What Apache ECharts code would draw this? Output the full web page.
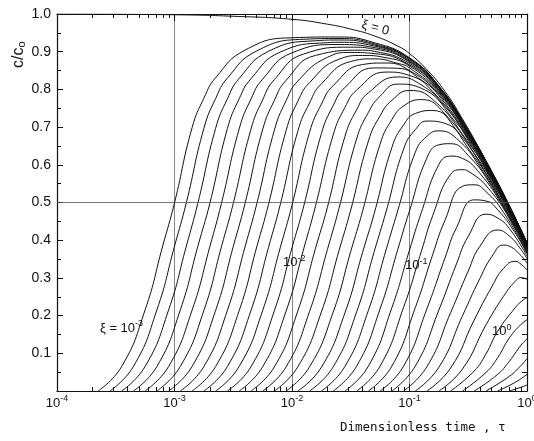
<!DOCTYPE html>
<html>
<head>
<meta charset="utf-8">
<script src="https://cdn.jsdelivr.net/npm/echarts@6/dist/echarts.min.js"></script>
<style>
  html, body { margin: 0; padding: 0; background: #fff; }
  #chart { width: 534px; height: 441px; }
</style>
</head>
<body>
<div id="chart"></div>
<script>
// decade exponents of the x axis (10^-4 .. 10^0)
const xTickExps = ['-4', '-3', '-2', '-1', '0'];
// minor log ticks 2..9 of each decade
const xMinorTicks = [
  2e-4, 3e-4, 4e-4, 5e-4, 6e-4, 7e-4, 8e-4, 9e-4,
  2e-3, 3e-3, 4e-3, 5e-3, 6e-3, 7e-3, 8e-3, 9e-3,
  0.02, 0.03, 0.04, 0.05, 0.06, 0.07, 0.08, 0.09,
  0.2, 0.3, 0.4, 0.5, 0.6, 0.7, 0.8, 0.9
];
const yTickLabels = ['', '0.1', '0.2', '0.3', '0.4', '0.5', '0.6', '0.7', '0.8', '0.9', '1.0'];

// xi = 0 curve, [tau, c/c0]
const xiZero = [
  [1e-4, 1.0], [1e-3, 0.998], [3.16e-3, 0.994], [0.01, 0.986], [0.02, 0.973],
  [0.0316, 0.96], [0.0501, 0.942], [0.0794, 0.915], [0.1, 0.895], [0.141, 0.852],
  [0.2, 0.795], [0.282, 0.722], [0.398, 0.64], [0.501, 0.583], [0.631, 0.523],
  [0.794, 0.46], [1, 0.393]
];

// family of curves, xi = 10^-3 ... 10^0.5 in steps of 10^0.1, [tau, c/c0]
const familyCurves = [
  [[2.24e-4,0],[3.55e-4,0.065],[5.62e-4,0.215],[7.94e-4,0.385],[1e-3,0.499],[1.41e-3,0.698],[1.78e-3,0.777],[2.24e-3,0.831],[3.98e-3,0.904],[0.01,0.937],[0.0251,0.939],[0.0501,0.924],[0.1,0.884],[0.178,0.809],[0.316,0.692],[0.501,0.581],[0.708,0.491],[1,0.393]],
  [[2.82e-4,0],[4.47e-4,0.065],[7.08e-4,0.215],[1e-3,0.384],[1.26e-3,0.499],[1.78e-3,0.697],[2.24e-3,0.776],[2.82e-3,0.830],[5.01e-3,0.902],[0.0126,0.933],[0.0251,0.935],[0.0501,0.921],[0.1,0.882],[0.178,0.808],[0.316,0.691],[0.501,0.581],[0.708,0.491],[1,0.393]],
  [[3.55e-4,0],[5.62e-4,0.065],[8.91e-4,0.215],[1.26e-3,0.384],[1.58e-3,0.498],[2.24e-3,0.697],[2.82e-3,0.775],[3.55e-3,0.829],[6.31e-3,0.901],[0.0158,0.929],[0.0251,0.931],[0.0501,0.918],[0.1,0.881],[0.178,0.807],[0.316,0.690],[0.501,0.580],[0.708,0.490],[1,0.392]],
  [[4.47e-4,0],[7.08e-4,0.065],[1.12e-3,0.215],[1.58e-3,0.384],[2e-3,0.498],[2.82e-3,0.696],[3.55e-3,0.775],[4.47e-3,0.828],[7.94e-3,0.899],[0.02,0.924],[0.0251,0.925],[0.0501,0.915],[0.1,0.878],[0.178,0.805],[0.316,0.689],[0.501,0.580],[0.708,0.490],[1,0.392]],
  [[5.62e-4,0],[8.91e-4,0.065],[1.41e-3,0.214],[2e-3,0.383],[2.51e-3,0.498],[3.55e-3,0.695],[4.47e-3,0.774],[5.62e-3,0.827],[0.01,0.897],[0.0251,0.919],[0.0501,0.911],[0.1,0.875],[0.178,0.804],[0.316,0.688],[0.501,0.579],[0.708,0.489],[1,0.391]],
  [[7.08e-4,0],[1.12e-3,0.065],[1.78e-3,0.214],[2.51e-3,0.383],[3.16e-3,0.497],[4.47e-3,0.694],[5.62e-3,0.772],[7.08e-3,0.826],[0.0126,0.894],[0.0316,0.912],[0.0501,0.907],[0.1,0.873],[0.178,0.802],[0.316,0.687],[0.501,0.578],[0.708,0.489],[1,0.391]],
  [[8.91e-4,0],[1.41e-3,0.065],[2.24e-3,0.214],[3.16e-3,0.383],[3.98e-3,0.497],[5.62e-3,0.693],[7.08e-3,0.771],[8.91e-3,0.824],[0.0158,0.890],[0.0398,0.904],[0.0501,0.901],[0.1,0.869],[0.178,0.799],[0.316,0.685],[0.501,0.577],[0.708,0.488],[1,0.391]],
  [[1.12e-3,0],[1.78e-3,0.065],[2.82e-3,0.214],[3.98e-3,0.382],[5.01e-3,0.496],[7.08e-3,0.692],[8.91e-3,0.770],[0.0112,0.822],[0.02,0.885],[0.0316,0.898],[0.0501,0.895],[0.1,0.865],[0.178,0.797],[0.316,0.684],[0.501,0.576],[0.708,0.487],[1,0.390]],
  [[1.41e-3,0],[2.24e-3,0.065],[3.55e-3,0.213],[5.01e-3,0.382],[6.31e-3,0.495],[8.91e-3,0.691],[0.0112,0.768],[0.0141,0.818],[0.0251,0.880],[0.0398,0.890],[0.0631,0.884],[0.1,0.862],[0.178,0.794],[0.316,0.682],[0.501,0.575],[0.708,0.487],[1,0.389]],
  [[1.78e-3,0],[2.82e-3,0.065],[4.47e-3,0.213],[6.31e-3,0.381],[7.94e-3,0.494],[0.0112,0.689],[0.0141,0.764],[0.0178,0.815],[0.0316,0.874],[0.0501,0.881],[0.0794,0.869],[0.1,0.857],[0.178,0.791],[0.316,0.680],[0.501,0.574],[0.708,0.486],[1,0.389]],
  [[2.24e-3,0],[3.55e-3,0.065],[5.62e-3,0.213],[7.94e-3,0.380],[0.01,0.493],[0.0141,0.686],[0.0178,0.761],[0.0224,0.810],[0.0398,0.866],[0.0631,0.870],[0.1,0.850],[0.178,0.787],[0.316,0.678],[0.501,0.572],[0.708,0.485],[1,0.388]],
  [[2.82e-3,0],[4.47e-3,0.064],[7.08e-3,0.213],[0.01,0.380],[0.0126,0.491],[0.0178,0.683],[0.0224,0.757],[0.0282,0.805],[0.0501,0.857],[0.0794,0.856],[0.126,0.825],[0.178,0.783],[0.316,0.675],[0.501,0.570],[0.708,0.483],[1,0.388]],
  [[3.55e-3,0],[5.62e-3,0.064],[8.91e-3,0.212],[0.0126,0.378],[0.0158,0.489],[0.0224,0.679],[0.0282,0.752],[0.0355,0.798],[0.0631,0.846],[0.1,0.837],[0.158,0.794],[0.316,0.672],[0.501,0.568],[0.708,0.482],[1,0.387]],
  [[4.47e-3,0],[7.08e-3,0.064],[0.0112,0.212],[0.0158,0.377],[0.02,0.487],[0.0282,0.675],[0.0355,0.746],[0.0447,0.791],[0.0794,0.833],[0.126,0.812],[0.2,0.755],[0.316,0.669],[0.501,0.566],[0.708,0.480],[1,0.386]],
  [[5.62e-3,0],[8.91e-3,0.064],[0.0141,0.211],[0.02,0.375],[0.0251,0.484],[0.0355,0.669],[0.0447,0.739],[0.0562,0.782],[0.0794,0.814],[0.126,0.803],[0.251,0.711],[0.316,0.665],[0.501,0.564],[0.708,0.479],[1,0.384]],
  [[7.08e-3,0],[0.0112,0.064],[0.0178,0.210],[0.0251,0.372],[0.0316,0.480],[0.0447,0.663],[0.0562,0.730],[0.0708,0.771],[0.1,0.797],[0.158,0.773],[0.316,0.660],[0.501,0.561],[0.708,0.477],[1,0.383]],
  [[8.91e-3,0],[0.0141,0.064],[0.0224,0.209],[0.0316,0.370],[0.0398,0.476],[0.0562,0.655],[0.0708,0.720],[0.0891,0.756],[0.126,0.773],[0.2,0.735],[0.398,0.608],[0.501,0.558],[0.708,0.475],[1,0.382]],
  [[0.0112,0],[0.0178,0.063],[0.0282,0.207],[0.0398,0.367],[0.0501,0.471],[0.0708,0.646],[0.0891,0.706],[0.112,0.736],[0.158,0.744],[0.251,0.692],[0.501,0.554],[0.708,0.472],[1,0.380]],
  [[0.0141,0],[0.0224,0.064],[0.0355,0.210],[0.0501,0.370],[0.0631,0.475],[0.0891,0.642],[0.112,0.693],[0.141,0.716],[0.2,0.710],[0.316,0.644],[0.631,0.497],[1,0.379]],
  [[0.0178,0],[0.0282,0.065],[0.0447,0.214],[0.0631,0.374],[0.0794,0.478],[0.112,0.633],[0.141,0.676],[0.178,0.690],[0.251,0.670],[0.398,0.594],[0.794,0.438],[1,0.377]],
  [[0.0224,0],[0.0355,0.066],[0.0562,0.218],[0.0794,0.375],[0.1,0.478],[0.141,0.619],[0.178,0.653],[0.224,0.656],[0.316,0.625],[0.501,0.542],[1,0.375]],
  [[0.0282,0],[0.0447,0.066],[0.0708,0.221],[0.1,0.374],[0.126,0.473],[0.178,0.601],[0.224,0.623],[0.282,0.617],[0.398,0.577],[0.631,0.487],[1,0.373]],
  [[0.0355,0],[0.0562,0.066],[0.0891,0.222],[0.126,0.370],[0.158,0.466],[0.224,0.575],[0.282,0.587],[0.316,0.583],[0.501,0.527],[0.794,0.430],[1,0.370]],
  [[0.0447,0],[0.0708,0.066],[0.112,0.221],[0.158,0.363],[0.2,0.452],[0.282,0.543],[0.355,0.547],[0.447,0.529],[0.631,0.474],[1,0.367]],
  [[0.0562,0],[0.0891,0.066],[0.141,0.219],[0.2,0.352],[0.251,0.433],[0.355,0.507],[0.447,0.504],[0.562,0.481],[0.794,0.419],[1,0.364]],
  [[0.0708,0],[0.112,0.066],[0.178,0.215],[0.251,0.337],[0.316,0.410],[0.447,0.469],[0.562,0.459],[0.708,0.431],[1,0.358]],
  [[0.0891,0],[0.141,0.065],[0.224,0.208],[0.316,0.318],[0.398,0.384],[0.562,0.427],[0.708,0.411],[0.891,0.375],[1,0.351]],
  [[0.112,0],[0.178,0.063],[0.282,0.199],[0.398,0.299],[0.501,0.356],[0.631,0.387],[0.708,0.384],[0.891,0.359],[1,0.339]],
  [[0.141,0],[0.224,0.061],[0.355,0.188],[0.501,0.276],[0.631,0.325],[0.794,0.344],[0.891,0.336],[1,0.321]],
  [[0.178,0],[0.282,0.058],[0.447,0.175],[0.631,0.251],[0.794,0.291],[0.891,0.301],[1,0.296]],
  [[0.224,0],[0.355,0.053],[0.447,0.098],[0.562,0.158],[0.794,0.221],[0.891,0.237],[1,0.248]],
  [[0.282,0],[0.447,0.049],[0.562,0.088],[0.708,0.141],[0.891,0.177],[1,0.189]],
  [[0.355,0],[0.562,0.044],[0.708,0.079],[0.891,0.122],[1,0.138]],
  [[0.447,0],[0.708,0.039],[0.891,0.068],[1,0.086]],
  [[0.562,0],[0.794,0.023],[1,0.044]],
  [[0.708,0],[0.891,0.010],[1,0.016]]
];

// curve labels and where they start, in data units [tau, c/c0]
const curveLabelTexts = ['ξ = 0', 'ξ = 10{e|-3}', '10{e|-2}', '10{e|-1}', '10{e|0}'];
const curveLabelAt = [[0.0394, 0.972], [2.32e-4, 0.167], [8.38e-3, 0.34], [0.0916, 0.332], [0.504, 0.157]];

const ink = '#111';
const myChart = echarts.init(document.getElementById('chart'));

const lineStyle = { color: ink, width: 1 };
const series = [{
  type: 'line',
  data: xiZero,
  smooth: 0.5,
  showSymbol: false,
  silent: true,
  lineStyle: lineStyle,
  markLine: {
    silent: true,
    symbol: 'none',
    label: { show: false },
    lineStyle: { color: '#555', width: 0.8, type: 'solid' },
    data: [{ yAxis: 0.5 }]
  }
}];
familyCurves.forEach(pts => {
  series.push({
    type: 'line',
    data: pts,
    smooth: 0.5,
    showSymbol: false,
    silent: true,
    lineStyle: lineStyle
  });
});

const expRich = {
  b: { fontSize: 13, color: ink, fontFamily: 'Liberation Sans' },
  e: { fontSize: 9, color: ink, fontFamily: 'Liberation Sans', padding: [0, 0, 9, 0] }
};
const axisInk = { color: ink, width: 1.2 };

myChart.setOption({
  animation: false,
  backgroundColor: '#fff',
  textStyle: { fontFamily: 'Liberation Sans' },
  grid: { left: 57, right: 7, top: 14, bottom: 50, containLabel: false, outerBoundsMode: 'none' },
  xAxis: [
    {
      type: 'log', logBase: 10, min: 1e-4, max: 1, position: 'bottom',
      axisLine: { lineStyle: axisInk },
      axisTick: { inside: true, length: 7, lineStyle: { color: ink } },
      axisLabel: {
        margin: 3,
        formatter: v => '{b|10}{e|' + xTickExps[Math.round(Math.log10(v)) + 4] + '}',
        rich: expRich
      },
      splitLine: { show: true, lineStyle: { color: '#666', width: 0.8 } }
    },
    {
      type: 'log', logBase: 10, min: 1e-4, max: 1, position: 'bottom',
      axisLine: { show: false },
      axisTick: { inside: true, length: 4, customValues: xMinorTicks, lineStyle: { color: ink } },
      axisLabel: { show: false },
      splitLine: { show: false }
    },
    {
      type: 'log', logBase: 10, min: 1e-4, max: 1, position: 'top',
      axisLine: { show: true, lineStyle: axisInk },
      axisTick: { inside: true, length: 4, customValues: xMinorTicks, lineStyle: { color: ink } },
      axisLabel: { show: false },
      splitLine: { show: false }
    },
    {
      type: 'log', logBase: 10, min: 1e-4, max: 1, position: 'top',
      axisLine: { show: false },
      axisTick: { inside: true, length: 7, lineStyle: { color: ink } },
      axisLabel: { show: false },
      splitLine: { show: false }
    }
  ],
  yAxis: [
    {
      type: 'value', min: 0, max: 1, interval: 0.1, position: 'left',
      axisLine: { show: true, lineStyle: axisInk },
      axisTick: { show: true, inside: true, length: 6, lineStyle: { color: ink } },
      minorTick: { show: true, splitNumber: 2, length: 4, lineStyle: { color: ink } },
      axisLabel: {
        margin: 6, fontSize: 14, color: ink,
        formatter: v => yTickLabels[Math.round(v * 10)]
      },
      splitLine: { show: false }
    },
    {
      type: 'value', min: 0, max: 1, interval: 0.05, position: 'right',
      axisLine: { show: true, lineStyle: axisInk },
      axisTick: { show: true, inside: true, length: 5, lineStyle: { color: ink } },
      axisLabel: { show: false },
      splitLine: { show: false }
    }
  ],
  series: series
});

// texts: axis titles and curve labels (curve labels anchored in data units)
const graphics = [
  {
    type: 'text', x: 10, y: 68, rotation: Math.PI / 2,
    style: {
      text: 'c/c{s|o}', fill: ink,
      font: '16px "Liberation Sans"',
      rich: { s: { fontSize: 11, fill: ink, padding: [6, 0, 0, 0] } }
    }
  },
  {
    type: 'text', x: 340, y: 421,
    style: { text: 'Dimensionless time , τ', fill: ink, font: '12.5px "DejaVu Sans Mono"' }
  }
];
curveLabelTexts.forEach((t, k) => {
  const p = myChart.convertToPixel({ gridIndex: 0 }, curveLabelAt[k]);
  graphics.push({
    type: 'text', x: p[0], y: p[1],
    rotation: k === 0 ? -0.25 : 0,
    style: {
      text: t, fill: ink, align: 'left', verticalAlign: 'middle',
      font: '13px "Liberation Sans"',
      rich: {
        e: { fontSize: 9, fill: ink, padding: [0, 0, 9, 0] }
      }
    }
  });
});
myChart.setOption({ graphic: graphics });
</script>
</body>
</html>
